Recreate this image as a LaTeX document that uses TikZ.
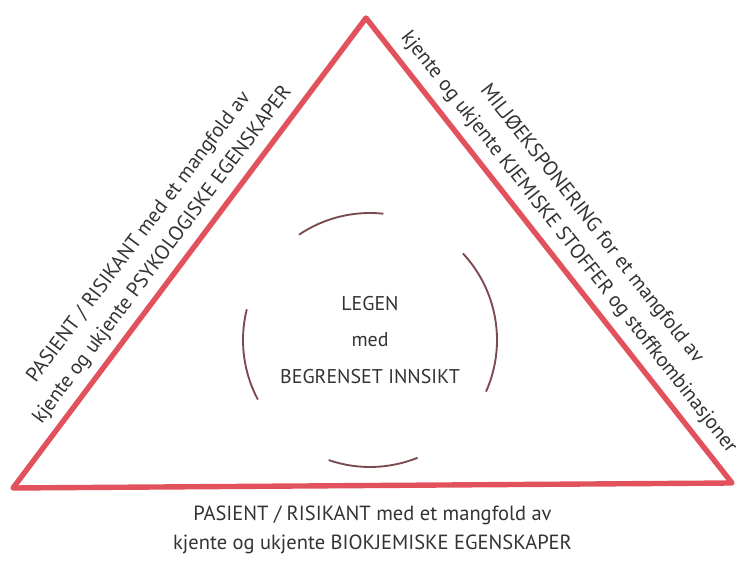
\documentclass[tikz,border=0pt]{standalone}
\usepackage{fontspec}
\setmainfont{PT Sans}
\usetikzlibrary{calc,positioning}
\definecolor{trired}{HTML}{E2525C}
\definecolor{ringbrown}{HTML}{7A4A4E}
\definecolor{txtgray}{HTML}{333333}

\begin{document}
\begin{tikzpicture}[x=0.03cm,y=0.03cm,
    edge/.style={trired,line width=4.6pt,line join=round},
    ring/.style={ringbrown,line width=1.6pt},
    sidetext/.style={txtgray,font=\fontsize{17.5}{25}\selectfont,align=center,inner sep=0pt}]
  \useasboundingbox (0,0) rectangle (748,584);
  % corners of the triangle
  \coordinate (apex) at (366,566);
  \coordinate (bl) at (13,96);
  \coordinate (br) at (732,101);
  \coordinate (mid) at (370,244);
  \draw[edge] (apex) -- (br) -- (bl) -- cycle;
  % broken ring round the doctor
  \draw[ring] ($(mid)+(84:127)$) arc (84:124:127);
  \draw[ring] ($(mid)+(-24:127)$) arc (-24:43:127);
  \draw[ring] ($(mid)+(166:127)$) arc (166:208:127);
  \draw[ring] ($(mid)+(251:127)$) arc (251:292:127);
  \node[txtgray,font=\fontsize{17}{31}\selectfont,align=center] (legen) at (mid)
    {LEGEN\\med\\BEGRENSET INNSIKT};
  % texts along the sides
  \path (bl) -- (apex) node[sidetext,pos=0.47,sloped,above=9pt] (psyk)
    {PASIENT / RISIKANT med et mangfold av\\kjente og ukjente PSYKOLOGISKE EGENSKAPER};
  \path (apex) -- (br) node[sidetext,pos=0.51,sloped,above=9pt] (kjem)
    {MILJØEKSPONERING for et mangfold av\\kjente og ukjente KJEMISKE STOFFER og stoffkombinasjoner};
  \node[sidetext,below=17pt of {$(bl)!0.5!(br)$}] (biok)
    {PASIENT / RISIKANT med et mangfold av\\kjente og ukjente BIOKJEMISKE EGENSKAPER};
\end{tikzpicture}
\end{document}
